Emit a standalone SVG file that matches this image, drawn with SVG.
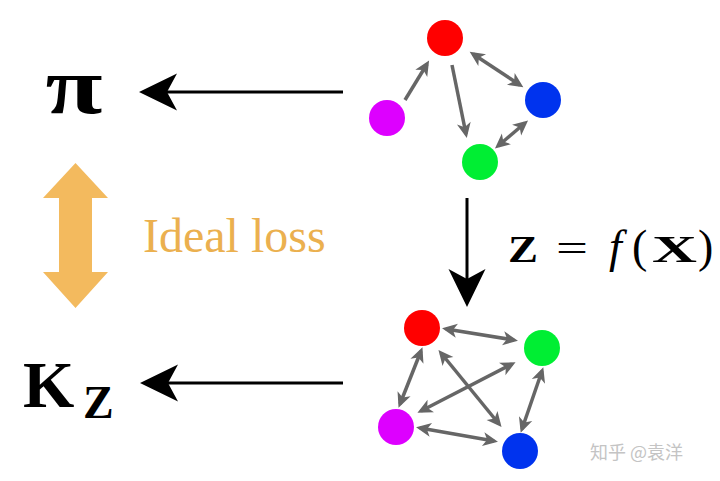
<svg xmlns="http://www.w3.org/2000/svg" width="720" height="481" viewBox="0 0 720 481">
<style>
.g{stroke:#666;stroke-width:3.5;fill:none}
.gd{marker-start:url(#gh);marker-end:url(#gh)}
.ge{marker-end:url(#gh)}
.k{stroke:#000;stroke-width:3;fill:none;marker-end:url(#kh)}
.math{font-family:"Liberation Serif","DejaVu Serif",serif;fill:#000}
.b{font-weight:bold}
</style>
<defs>
<marker id="gh" markerUnits="userSpaceOnUse" viewBox="-2 -9 20 18" refX="11" refY="0" markerWidth="20" markerHeight="18" orient="auto-start-reverse">
<path d="M0,-7 L15,0 L0,7 L4,0 z" fill="#666"/>
</marker>
<marker id="kh" markerUnits="userSpaceOnUse" viewBox="-2 -20 42 40" refX="34" refY="0" markerWidth="42" markerHeight="40" orient="auto">
<path d="M0,-18.5 L38,0 L0,18.5 L10,0 z" fill="#000"/>
</marker>
</defs>
<rect width="720" height="481" fill="#fff"/>

<g id="connectors">
<line class="k" x1="343" y1="92" x2="143" y2="92"/>
<line class="k" x1="343" y1="383" x2="144" y2="383"/>
<line class="k" x1="467" y1="198" x2="467" y2="303"/>
<g id="top-edges">
<line class="g ge" x1="405" y1="100" x2="427" y2="64"/>
<line class="g ge" x1="452" y1="65" x2="466" y2="134"/>
<line class="g gd" x1="473" y1="54" x2="520" y2="85"/>
<line class="g gd" x1="498" y1="146" x2="525" y2="123"/>
</g>
<g id="bottom-edges">
<line class="g gd" x1="446" y1="329" x2="514" y2="340"/>
<line class="g gd" x1="421" y1="351" x2="400" y2="404"/>
<line class="g gd" x1="441" y1="353" x2="499" y2="424"/>
<line class="g gd" x1="512" y1="364" x2="421" y2="411"/>
<line class="g gd" x1="542" y1="371" x2="522" y2="429"/>
<line class="g gd" x1="420" y1="428" x2="494" y2="441"/>
</g>
</g>

<g id="ideal-loss-arrow">
<path d="M75.5,163 L108,198 L92,198 L92,272 L108,272 L75.5,308 L43,272 L59,272 L59,198 L43,198 z" fill="#F3BA5E"/>
</g>

<g id="top-graph">
<g id="t-red"><circle cx="445" cy="38" r="18" fill="#FF0000"/></g>
<g id="t-blue"><circle cx="543" cy="100" r="18" fill="#0033EE"/></g>
<g id="t-magenta"><circle cx="387" cy="118" r="18" fill="#DD00FF"/></g>
<g id="t-green"><circle cx="480" cy="162" r="18" fill="#00EE33"/></g>
</g>

<g id="bottom-graph">
<g id="b-red"><circle cx="422" cy="328" r="18" fill="#FF0000"/></g>
<g id="b-green"><circle cx="542" cy="348" r="18" fill="#00EE33"/></g>
<g id="b-magenta"><circle cx="396" cy="427" r="18" fill="#DD00FF"/></g>
<g id="b-blue"><circle cx="520" cy="451" r="18" fill="#0033EE"/></g>
</g>

<g id="label-pi">
<text class="math b" font-size="80" text-anchor="middle" transform="translate(74,113) scale(1.3,1)">π</text>
</g>
<g id="label-kz">
<text class="math b" x="23" y="407" font-size="66">K</text>
<text class="math b" x="83" y="418" font-size="46">Z</text>
</g>
<g id="label-zfx">
<text class="math" y="262" font-size="40"><tspan class="b" x="508" font-size="38" textLength="30" lengthAdjust="spacingAndGlyphs">Z</tspan><tspan x="556" textLength="32" lengthAdjust="spacingAndGlyphs">=</tspan><tspan x="609" font-style="italic" font-size="46">f</tspan><tspan x="632" font-size="46">(</tspan><tspan class="b" x="652" font-size="38" textLength="45" lengthAdjust="spacingAndGlyphs">X</tspan><tspan x="698" font-size="46">)</tspan></text>
</g>
<g id="label-ideal-loss">
<text x="143" y="252" font-family="Liberation Serif, serif" font-size="48" fill="#EBB04F">Ideal loss</text>
</g>
<g id="watermark">
<text x="590" y="459" font-family="Noto Sans CJK SC, sans-serif" font-size="18" fill="#C4C4C4">知乎 @袁洋</text>
</g>
</svg>
